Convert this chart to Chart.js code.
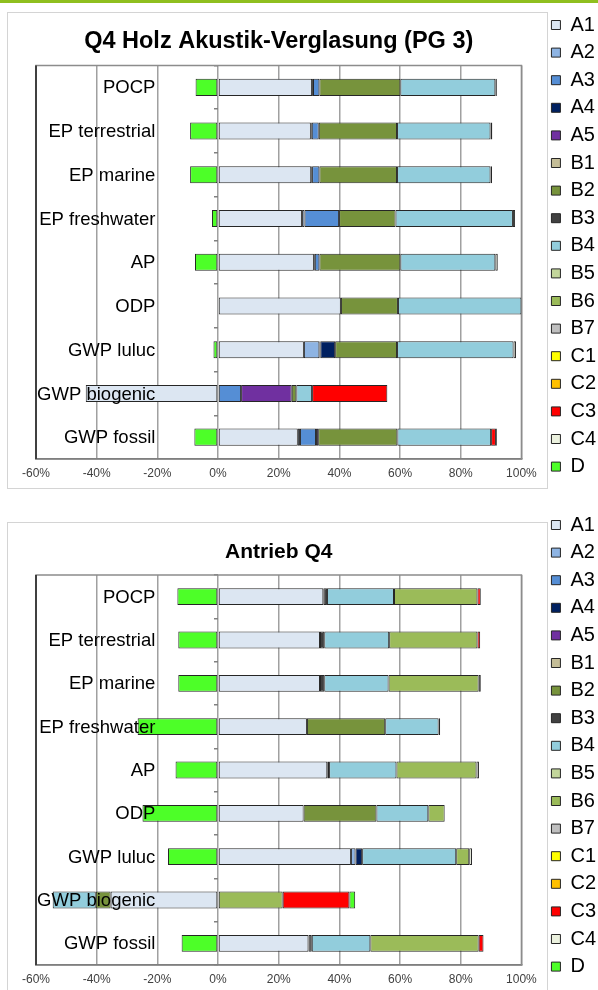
<!DOCTYPE html>
<html lang="de">
<head>
<meta charset="UTF-8" />
<meta name="viewport" content="width=device-width, initial-scale=1.0" />
<title>Q4 Holz Akustik-Verglasung / Antrieb Q4</title>
<script src="https://cdn.jsdelivr.net/npm/chart.js@4.4.3/dist/chart.umd.min.js"></script>
<style>
	body { margin: 0; background: #fff; width: 598px; height: 990px; overflow: hidden; }
	.topline { position: absolute; left: 0; top: 0; width: 598px; height: 3px; background: #8fbf1f; z-index: 2; }
	.chartBox { position: absolute; left: 0; width: 598px; height: 495px; }
</style>
</head>
<body>
<div class="topline"></div>
<div class="chartBox" style="top: 0"><canvas id="holzChart"></canvas></div>
<div class="chartBox" style="top: 495px"><canvas id="antriebChart"></canvas></div>

<script>
const categories = ["POCP", "EP terrestrial", "EP marine", "EP freshwater", "AP", "ODP", "GWP luluc", "GWP biogenic", "GWP fossil"];
const moduleNames = ["A1", "A2", "A3", "A4", "A5", "B1", "B2", "B3", "B4", "B5", "B6", "B7", "C1", "C2", "C3", "C4", "D"];
const moduleColors = ["#dce6f2", "#8eb4e3", "#558ed5", "#002060", "#7030a0", "#c4bd97", "#77933c", "#404040",
	"#92cddc", "#c3d69b", "#9bbb59", "#bfbfbf", "#ffff00", "#ffc000", "#ff0000", "#ebf1de", "#4dff28"];
const xTicks = [-60, -40, -20, 0, 20, 40, 60, 80, 100];

// Q4 Holz Akustik-Verglasung (PG 3) - share per module in %
const holzA1 = [31.0, 30.6, 30.7, 27.7, 31.6, 40.5, 28.3, -43.6, 26.3];
const holzA2 = [0.3, 0.3, 0.3, 0.8, 0.3, 0, 5.1, 0, 0.7];
const holzA3 = [2.1, 2.3, 2.4, 11.4, 1.5, 0, 0.3, 7.6, 5.3];
const holzA4 = [0, 0, 0, 0, 0, 0, 4.9, 0, 0];
const holzA5 = [0, 0, 0, 0, 0, 0, 0, 16.7, 0.7];
const holzB1 = [0, 0, 0, 0, 0, 0, 0, 0, 0];
const holzB2 = [26.7, 25.8, 25.6, 18.6, 26.7, 18.8, 20.4, 1.5, 26.1];
const holzB3 = [0, 0, 0, 0, 0, 0, 0, 0, 0];
const holzB4 = [31.3, 30.8, 30.8, 38.7, 31.3, 40.7, 38.4, 5.2, 30.9];
const holzB5 = [0, 0, 0, 0, 0, 0, 0, 0, 0];
const holzB6 = [0, 0, 0, 0, 0, 0, 0, 0, 0];
const holzB7 = [0, 0, 0, 0, 0, 0, 0, 0, 0];
const holzC1 = [0, 0, 0, 0, 0, 0, 0, 0, 0];
const holzC2 = [0, 0, 0, 0, 0, 0, 0, 0, 0];
const holzC3 = [0, 0, 0, 0, 0, 0, 0, 24.8, 1.6];
const holzC4 = [0.5, 0.6, 0.5, 0.7, 0.8, 0, 0.8, 0, 0.3];
const holzD = [-7.4, -9.2, -9.2, -2.0, -7.6, 0, -1.5, 0, -7.8];

// Antrieb Q4 - share per module in %
const antriebA1 = [34.7, 33.6, 33.6, 29.3, 36.0, 28.2, 43.8, -35.4, 29.8];
const antriebA2 = [0, 0, 0, 0, 0, 0, 1.5, 0, 0];
const antriebA3 = [0, 0, 0, 0, 0, 0, 0, 0, 0];
const antriebA4 = [0, 0, 0, 0, 0, 0, 2.2, 0, 0];
const antriebA5 = [0, 0, 0, 0, 0, 0, 0, 0, 0];
const antriebB1 = [0, 0, 0, 0, 0, 0, 0, 0, 0];
const antriebB2 = [0, 0, 0, 25.8, 0, 24.0, 0, -4.9, 0];
const antriebB3 = [1.2, 1.4, 1.4, 0, 0.6, 0, 0, 0, 1.1];
const antriebB4 = [22.1, 21.4, 21.2, 17.6, 22.2, 17.1, 31.0, -14.2, 19.3];
const antriebB5 = [0, 0, 0, 0, 0, 0, 0, 0, 0];
const antriebB6 = [27.5, 29.1, 29.7, 0, 26.4, 5.4, 4.3, 21.3, 35.7];
const antriebB7 = [0, 0, 0, 0, 0, 0, 0, 0, 0];
const antriebC1 = [0, 0, 0, 0, 0, 0, 0, 0, 0];
const antriebC2 = [0, 0, 0, 0, 0, 0, 0, 0, 0];
const antriebC3 = [1.1, 0.9, 0, 0, 0, 0, 0, 22.0, 1.6];
const antriebC4 = [0, 0, 0.7, 0.5, 0.8, 0, 0.9, 0, 0];
const antriebD = [-13.4, -13.1, -13.1, -26.5, -14.0, -24.9, -16.5, 1.9, -12.0];

const fontFamily = "Arial, 'Liberation Sans', sans-serif";
Chart.defaults.font.family = fontFamily;

// white frame around the plot, plot border and the category names drawn over the bars
const framePlugin = {
	id: "frame",
	beforeDraw(chart, args, opts) {
		const ctx = chart.ctx;
		ctx.save();
		ctx.fillStyle = "#fff";
		ctx.fillRect(0, 0, chart.width, chart.height);
		ctx.strokeStyle = "#d4d4d4";
		ctx.lineWidth = 1;
		ctx.strokeRect(7.5, opts.top + 0.5, 540, opts.bottom - opts.top);
		ctx.restore();
	},
	beforeDatasetsDraw(chart) {
		const ctx = chart.ctx;
		const a = chart.chartArea;
		ctx.save();
		ctx.strokeStyle = "#8c8c8c";
		ctx.lineWidth = 1.5;
		ctx.strokeRect(a.left, a.top, a.right - a.left, a.bottom - a.top);
		ctx.strokeStyle = "#404040";
		ctx.lineWidth = 2;
		ctx.beginPath();
		ctx.moveTo(a.left, a.top);
		ctx.lineTo(a.left, a.bottom);
		ctx.stroke();
		ctx.restore();
	},
	afterDatasetsDraw(chart) {
		const ctx = chart.ctx;
		const x = chart.scales.x;
		const y = chart.scales.y;
		ctx.save();
		ctx.font = "18.5px " + fontFamily;
		ctx.fillStyle = "#000";
		ctx.textAlign = "right";
		ctx.textBaseline = "middle";
		const right = x.getPixelForValue(-20) - 2;
		categories.forEach((c, i) => ctx.fillText(c, right, y.getPixelForValue(i) + 1));
		ctx.restore();
	},
};

function buildDatasets(series) {
	return series.map((data, i) => ({
		label: moduleNames[i],
		data: data,
		backgroundColor: moduleColors[i],
		borderColor: "#262626",
		borderWidth: 1,
		borderSkipped: false,
		barPercentage: 0.39,
		categoryPercentage: 1,
		xAxisID: "x",
		yAxisID: "y",
	}));
}

function makeChart(canvasId, title, series, lay) {
	const ctx = document.getElementById(canvasId).getContext("2d");
	return new Chart(ctx, {
		type: "bar",
		data: { labels: categories, datasets: buildDatasets(series) },
		options: {
			indexAxis: "y",
			responsive: true,
			maintainAspectRatio: false,
			animation: false,
			layout: { padding: { top: lay.padTop, left: 36, right: -8, bottom: 0 } },
			scales: {
				x: {
					type: "linear",
					min: -60,
					max: 100,
					stacked: true,
					afterBuildTicks: (s) => { s.ticks = xTicks.map((v) => ({ value: v })); },
					afterFit: (s) => { s.height = lay.axisHeight; },
					ticks: { callback: (v) => v + "%", font: { size: 12 }, color: "#404040", padding: 7 },
					grid: { color: "#a0a0a0", lineWidth: 1.5, drawTicks: false },
					border: { color: "#595959", width: 1.5 },
				},
				y: {
					type: "category",
					position: { x: 0 },
					stacked: true,
					ticks: { display: false },
					grid: { offset: true, drawOnChartArea: false, tickLength: 4, color: "#808080", lineWidth: 1.5 },
					border: { display: false },
				},
				gap: {
					type: "linear",
					axis: "y",
					position: "right",
					ticks: { display: false },
					grid: { display: false },
					border: { display: false },
					afterFit: (s) => { s.width = 22.4; },
				},
			},
			plugins: {
				title: {
					display: true,
					text: title,
					fullSize: false,
					color: "#000",
					font: { size: lay.titleSize, weight: "bold" },
					padding: { top: lay.titleTop, bottom: lay.titleBottom },
				},
				legend: {
					position: "right",
					align: "start",
					labels: { boxWidth: 9, boxHeight: 9, padding: 7.6, color: "#000", font: { size: 20 } },
				},
				tooltip: { enabled: false },
				frame: { top: lay.frameTop, bottom: lay.frameBottom },
			},
		},
		plugins: [framePlugin],
	});
}

makeChart("holzChart", "Q4 Holz Akustik-Verglasung (PG 3)",
	[holzA1, holzA2, holzA3, holzA4, holzA5, holzB1, holzB2, holzB3, holzB4, holzB5, holzB6, holzB7, holzC1, holzC2, holzC3, holzC4, holzD],
	{ padTop: 7.4, titleSize: 23.5, titleTop: 20.5, titleBottom: 9.4, axisHeight: 36, frameTop: 12, frameBottom: 488 });

makeChart("antriebChart", "Antrieb Q4",
	[antriebA1, antriebA2, antriebA3, antriebA4, antriebA5, antriebB1, antriebB2, antriebB3, antriebB4, antriebB5, antriebB6, antriebB7, antriebC1, antriebC2, antriebC3, antriebC4, antriebD],
	{ padTop: 12.4, titleSize: 21, titleTop: 32, titleBottom: 10.4, axisHeight: 25, frameTop: 27, frameBottom: 505 });
</script>
</body>
</html>
